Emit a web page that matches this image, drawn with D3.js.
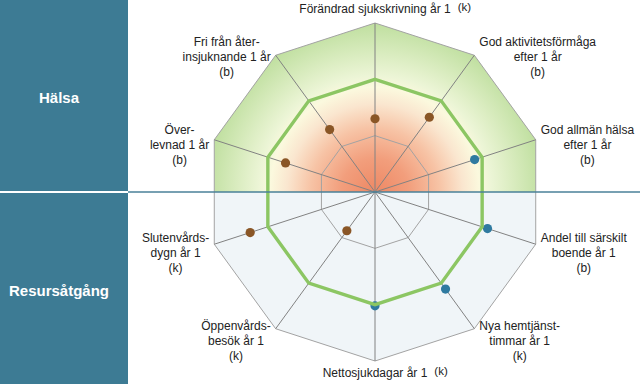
<!DOCTYPE html>
<html>
<head>
<meta charset="utf-8">
<script src="https://cdn.jsdelivr.net/npm/d3@7"></script>
<style>
  body { margin: 0; background: #fff; }
  text { font-family: "Liberation Sans", Arial, sans-serif; fill: #222; }
</style>
</head>
<body>
<div id="chart"></div>
<script>
// Indikatorer, medurs från toppen
const categories = [
    ['Förändrad sjukskrivning år 1'],
    ['God aktivitetsförmåga', 'efter 1 år'],
    ['God allmän hälsa', 'efter 1 år'],
    ['Andel till särskilt', 'boende år 1'],
    ['Nya hemtjänst-', 'timmar år 1'],
    ['Nettosjukdagar år 1'],
    ['Öppenvårds-', 'besök år 1'],
    ['Slutenvårds-', 'dygn år 1'],
    ['Över-', 'levnad 1 år'],
    ['Fri från åter-', 'insjuknande 1 år']
];
const suffixes = ['(k)', '(b)', '(b)', '(b)', '(k)', '(k)', '(k)', '(k)', '(b)', '(b)'];

// Värden (riket = 100)
const values = [65, 82, 93, 105, 106.5, 101, 42.5, 116.5, 83.5, 68.5];
const signal = ['brun', 'brun', 'blå', 'blå', 'blå', 'blå', 'brun', 'brun', 'brun', 'brun'];
const referenceValue = 100;
const ringValues = [50, 100, 150];
const sections = ['Hälsa', 'Resursåtgång'];

// Färger
const dotColors = { brun: '#8a5626', 'blå': '#2f7aa0' };

// Mått
const width = 640, height = 384;
const panelW = 128;
const cx = 375, cy = 192, R = 169;

const svg = d3.select('#chart').append('svg')
    .attr('width', width)
    .attr('height', height);

const defs = svg.append('defs');

// radiell gradient för övre halvan (i gruppens koordinater)
const grad = defs.append('radialGradient')
    .attr('id', 'halsa')
    .attr('gradientUnits', 'userSpaceOnUse')
    .attr('cx', 0).attr('cy', 0).attr('r', R);
[
    [0, '#ee8864'], [0.2, '#f29e7c'], [0.38, '#f7c3a5'], [0.52, '#fae6cf'],
    [0.62, '#fbf9de'], [0.69, '#ecf5d6'], [1, '#bfdf9f']
].forEach(s => grad.append('stop').attr('offset', s[0]).attr('stop-color', s[1]));

// clip i gruppens koordinater
defs.append('clipPath').attr('id', 'upperG')
    .append('rect').attr('x', -cx).attr('y', -cy).attr('width', width).attr('height', cy);
defs.append('clipPath').attr('id', 'lowerG')
    .append('rect').attr('x', -cx).attr('y', 0).attr('width', width).attr('height', height - cy);

// Skalor
const n = categories.length;
const angle = d3.scalePoint().domain(d3.range(n)).range([0, 2 * Math.PI * (n - 1) / n]);
const r = d3.scaleLinear().domain([0, 150]).range([0, R]);

const g = svg.append('g').attr('transform', `translate(${cx}, ${cy})`);

const ring = v => d3.lineRadial()
    .angle((d, i) => angle(i))
    .radius(() => r(v))
    .curve(d3.curveLinearClosed)(categories);

// bakgrund
g.append('path').attr('d', ring(150)).attr('fill', 'url(#halsa)')
    .attr('clip-path', 'url(#upperG)');
g.append('path').attr('d', ring(150)).attr('fill', '#f0f5f8')
    .attr('clip-path', 'url(#lowerG)');

// rutnät
ringValues.forEach(v => {
    g.append('path').attr('d', ring(v))
        .attr('fill', 'none')
        .attr('stroke', '#a3a3a3')
        .attr('stroke-width', 1);
});

const pos = (i, v) => [r(v) * Math.sin(angle(i)), -r(v) * Math.cos(angle(i))];

categories.forEach((c, i) => {
    const [x, y] = pos(i, 150);
    g.append('line')
        .attr('x1', 0).attr('y1', 0).attr('x2', x).attr('y2', y)
        .attr('stroke', '#828282')
        .attr('stroke-width', 1);
});

// punkter
g.selectAll('circle.dot')
    .data(values)
    .join('circle')
    .attr('class', 'dot')
    .attr('cx', (d, i) => pos(i, d)[0])
    .attr('cy', (d, i) => pos(i, d)[1])
    .attr('r', 4.6)
    .attr('fill', (d, i) => dotColors[signal[i]]);

// referenslinje (riket)
g.append('path').attr('d', ring(referenceValue))
    .attr('fill', 'none')
    .attr('stroke', '#8cc663')
    .attr('stroke-width', 3.4)
    .attr('stroke-linejoin', 'miter');

// vänsterpanel
sections.forEach((s, i) => {
    const y0 = i === 0 ? 0 : cy + 1;
    const h = i === 0 ? cy - 1 : height - cy - 1;
    svg.append('rect')
        .attr('x', 0).attr('y', y0)
        .attr('width', panelW).attr('height', h)
        .attr('fill', '#3d7b94');
    svg.append('text')
        .attr('x', 59)
        .attr('y', i === 0 ? 103 : 296)
        .attr('text-anchor', 'middle')
        .style('fill', '#fff')
        .style('font-weight', 'bold')
        .style('font-size', '15px')
        .text(s);
});

svg.append('line')
    .attr('x1', panelW).attr('x2', width)
    .attr('y1', cy).attr('y2', cy)
    .attr('stroke', '#4a8099')
    .attr('stroke-width', 1.3);

// etiketter
const lineH = 15;
categories.forEach((lines, i) => {
    const a = angle(i);
    const [vx, vy] = pos(i, 150);
    const x0 = cx + vx, y0 = cy + vy;

    if (lines.length === 1) {
        // topp / botten: en rad + (k)
        const by = Math.cos(a) > 0 ? y0 - 10 : y0 + 16;
        const t = svg.append('text')
            .attr('x', x0).attr('y', by)
            .attr('text-anchor', 'middle')
            .style('font-size', '12px')
            .text(lines[0]);
        const w = t.node().getComputedTextLength();
        svg.append('text')
            .attr('x', x0 + w / 2 + 7).attr('y', by - 2)
            .style('font-size', '11.5px')
            .text(suffixes[i]);
        return;
    }

    const all = lines.concat([suffixes[i]]);
    const midBase = y0 + 11 - 6 * Math.cos(a);
    const t = svg.append('text')
        .attr('text-anchor', 'middle')
        .style('font-size', '12px');
    const spans = all.map((l, k) => t.append('tspan')
        .attr('y', midBase + (k - 1) * lineH)
        .text(l));
    const maxW = d3.max(spans, s => s.node().getComputedTextLength());
    const side = Math.sin(a) > 0 ? 1 : -1;
    const tx = x0 + side * (5 + maxW / 2);
    spans.forEach(s => s.attr('x', tx));
});
</script>
</body>
</html>
